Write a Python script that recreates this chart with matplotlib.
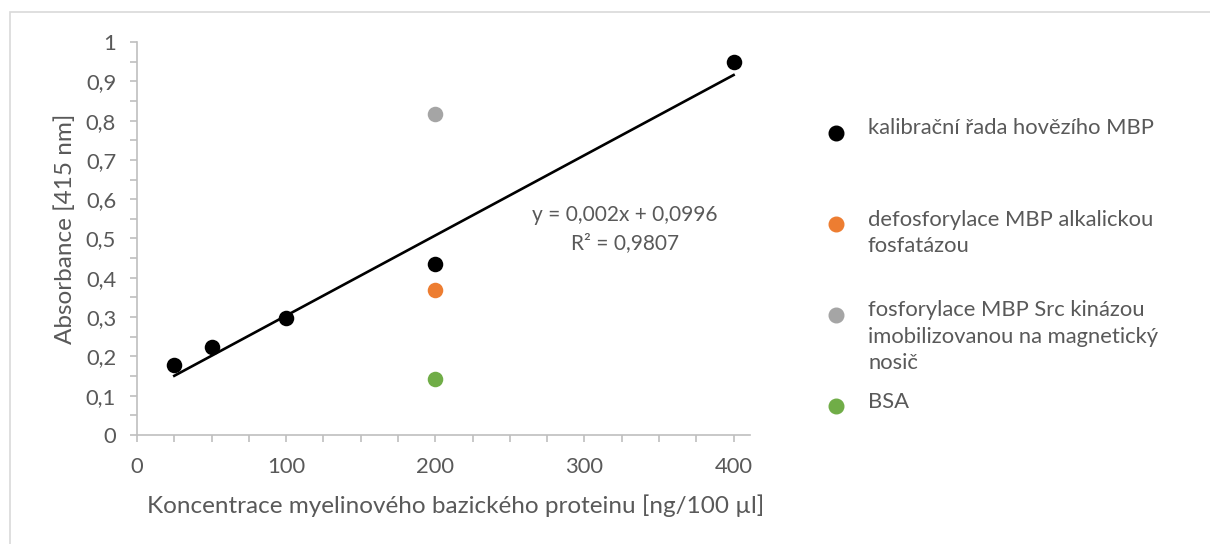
import matplotlib.pyplot as plt
from matplotlib.patches import Rectangle
from matplotlib.ticker import MultipleLocator, FuncFormatter
import numpy as np

# kalibracni rada (hovezi MBP)
calib_x = [25, 50, 100, 200, 400]
calib_y = [0.178, 0.223, 0.297, 0.435, 0.949]

# vzorky pri 200 ng/100 ul
sample_labels = ['defosforylace MBP alkalickou\nfosfatázou',
                 'fosforylace MBP Src kinázou\nimobilizovanou na magnetický\nnosič',
                 'BSA']
sample_x = [200, 200, 200]
sample_y = [0.369, 0.816, 0.142]
sample_colors = ['#ED7D31', '#A5A5A5', '#70AD47']

# linearni trend kalibrace
trend_slope = 0.002041
trend_intercept = 0.0996
trend_text = 'y = 0,002x + 0,0996\nR² = 0,9807'

font = 'Lato'
txt_col = '#595959'
axis_col = '#BFBFBF'

fig = plt.figure(figsize=(12.1, 5.44), dpi=100)
W, H = 1210, 544
ax = fig.add_axes([137 / W, 1 - 435 / H, 613 / W, 393 / H])

# ramecek grafu
fig.patches.append(Rectangle((10 / W, -0.1), 1.1, 1 - 12 / H + 0.1, transform=fig.transFigure,
                             fill=False, edgecolor='#D9D9D9', linewidth=1.2))

tx = np.array([calib_x[0], calib_x[-1]])
ax.plot(tx, trend_slope * tx + trend_intercept, color='black', lw=1.9, zorder=2)

handles = []
h = ax.scatter(calib_x, calib_y, s=125, color='black', zorder=3, linewidths=0)
handles.append(h)
for x, y, c in zip(sample_x, sample_y, sample_colors):
    handles.append(ax.scatter([x], [y], s=125, color=c, zorder=3, linewidths=0))

ax.set_xlim(0, 411)
ax.set_ylim(0, 1)
ax.xaxis.set_major_locator(MultipleLocator(100))
ax.xaxis.set_minor_locator(MultipleLocator(25))
ax.yaxis.set_major_locator(MultipleLocator(0.1))
ax.yaxis.set_minor_locator(MultipleLocator(0.05))
ax.yaxis.set_major_formatter(FuncFormatter(lambda v, p: ('%g' % round(v, 2)).replace('.', ',')))

for s in ['top', 'right']:
    ax.spines[s].set_visible(False)
for s in ['left', 'bottom']:
    ax.spines[s].set_color(axis_col)
    ax.spines[s].set_linewidth(1.2)
ax.tick_params(which='both', direction='out', color=axis_col, width=1.2, length=5,
               labelcolor=txt_col, labelsize=15.8, pad=10)
ax.tick_params(axis='x', pad=11)
for lab in ax.get_xticklabels() + ax.get_yticklabels():
    lab.set_family(font)

ax.set_xlabel('Koncentrace myelinového bazického proteinu [ng/100 µl]', fontsize=17.5,
              color=txt_col, family=font)
ax.set_ylabel('Absorbance [415 nm]', fontsize=17.5, color=txt_col, family=font)
ax.xaxis.set_label_coords(0.52, -0.15)
ax.yaxis.set_label_coords(-0.10, 0.524)

fig.text(625 / W, 1 - 229 / H, trend_text, ha='center', va='center', fontsize=15,
         color=txt_col, family=font, linespacing=1.45)

# legenda
leg_labels = ['kalibrační řada hovězího MBP'] + sample_labels
leg_y = [133, 224, 315, 406]
for hnd, lab, yy, c in zip(handles, leg_labels, leg_y, ['black'] + sample_colors):
    fig.add_artist(plt.Line2D([836 / W], [1 - yy / H], marker='o', markersize=10.5,
                              color=c, linestyle='none', transform=fig.transFigure))
    fig.text(868 / W, 1 - (yy - 14.5) / H, lab, ha='left', va='top', fontsize=15.8,
             color=txt_col, family=font, linespacing=1.38)

fig.savefig('out.png', dpi=100)
